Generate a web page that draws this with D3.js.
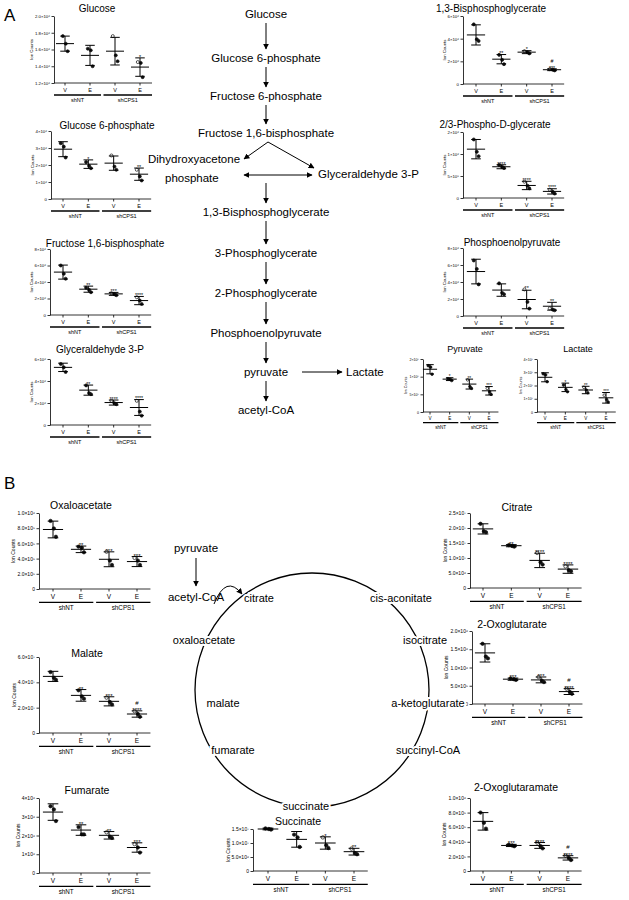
<!DOCTYPE html>
<html>
<head>
<meta charset="utf-8">
<script src="https://cdn.jsdelivr.net/npm/d3@7"></script>
<style>
  body { margin: 0; background: #fff; }
  svg { font-family: "Liberation Sans", Arial, sans-serif; }
  text { fill: #000; }
</style>
</head>
<body>
<div id="chart"></div>
<script>
"use strict"

// categories
const cats = ["V", "E", "V", "E"]
const groups = ["shNT", "shCPS1"]

// values per metabolite, in the unit of its axis (x10^6 etc.)
const glucose = { mean: [1.67, 1.53, 1.58, 1.39], sd: [0.09, 0.12, 0.165, 0.11],
  pts: [[1.76, 1.67, 1.58], [1.61, 1.59, 1.40], [1.76, 1.53, 1.46], [1.45, 1.44, 1.27]],
  sig: ["", "", "", "*"],
  ticks: [1.2, 1.4, 1.6, 1.8, 2.0], labels: ["1.2×10⁶", "1.4×10⁶", "1.6×10⁶", "1.8×10⁶", "2.0×10⁶"] }
const g6p = { mean: [2.93, 2.05, 2.11, 1.46], sd: [0.44, 0.25, 0.42, 0.36],
  pts: [[3.28, 3.08, 2.44], [2.17, 1.95, 1.81], [2.56, 1.91, 1.72], [1.72, 1.33, 1.09]],
  sig: ["", "*", "", "**"],
  ticks: [0, 1, 2, 3, 4], labels: ["0", "1×10⁶", "2×10⁶", "3×10⁶", "4×10⁶"] }
const f16bp = { mean: [5.2, 3.13, 2.56, 1.75], sd: [0.85, 0.37, 0.18, 0.5],
  pts: [[6.0, 5.0, 4.4], [3.3, 3.05, 2.76], [2.64, 2.52, 2.4], [2.15, 1.75, 1.34]],
  sig: ["", "**", "***", "****"],
  ticks: [0, 2, 4, 6, 8], labels: ["0", "2×10⁶", "4×10⁶", "6×10⁶", "8×10⁶"] }
const g3p = { mean: [5.24, 3.17, 2.04, 1.59], sd: [0.38, 0.46, 0.23, 0.72],
  pts: [[5.55, 5.24, 4.82], [3.6, 2.9, 2.8], [2.2, 1.98, 1.89], [2.2, 1.22, 0.85]],
  sig: ["", "**", "****", "****"],
  ticks: [0, 2, 4, 6], labels: ["0", "2×10⁶", "4×10⁶", "6×10⁶"] }
const bpg13 = { mean: [4.33, 2.19, 2.81, 1.26], sd: [0.89, 0.41, 0.13, 0.08],
  pts: [[5.26, 3.95, 3.8], [2.57, 2.13, 1.75], [2.9, 2.81, 2.7], [1.31, 1.26, 1.2]],
  sig: ["", "**", "*", "#\n***"],
  ticks: [0, 2, 4, 6], labels: ["0", "2×10⁶", "4×10⁶", "6×10⁶"] }
const pdg = { mean: [1.11, 0.71, 0.285, 0.15], sd: [0.22, 0.045, 0.095, 0.06],
  pts: [[1.33, 1.05, 0.95], [0.75, 0.71, 0.68], [0.37, 0.28, 0.22], [0.19, 0.14, 0.10]],
  sig: ["", "****", "****", "****"],
  ticks: [0, 0.5, 1, 1.5], labels: ["0", "5×10⁵", "1×10⁶", "2×10⁶"] }
const pep = { mean: [5.23, 3.05, 1.94, 1.15], sd: [1.45, 0.73, 1.09, 0.46],
  pts: [[6.53, 5.54, 3.72], [3.84, 2.73, 2.57], [3.13, 1.66, 0.87], [0.9, 0.75, 0.67]],
  sig: ["", "", "**", "**"],
  ticks: [0, 2, 4, 6, 8], labels: ["0", "2×10⁶", "4×10⁶", "6×10⁶", "8×10⁶"] }
const pyruvate = { mean: [1.21, 0.93, 0.79, 0.60], sd: [0.13, 0.04, 0.14, 0.12],
  pts: [[1.31, 1.27, 1.07], [0.94, 0.92, 0.89], [0.91, 0.72, 0.67], [0.67, 0.57, 0.50]],
  sig: ["", "*", "**", "***"],
  ticks: [0, 0.5, 1, 1.5], labels: ["0", "5×10⁵", "1×10⁶", "2×10⁶"] }
const lactate = { mean: [2.62, 1.86, 1.66, 1.07], sd: [0.34, 0.32, 0.28, 0.4],
  pts: [[2.88, 2.8, 2.29], [2.03, 1.7, 1.53], [1.86, 1.66, 1.45], [1.27, 0.94, 0.76]],
  sig: ["", "*", "**", "***"],
  ticks: [0, 1, 2, 3, 4], labels: ["0", "1×10⁷", "2×10⁷", "3×10⁷", "4×10⁷"] }
const oaa = { mean: [7.83, 5.22, 3.91, 3.61], sd: [1.1, 0.43, 0.98, 0.66],
  pts: [[8.96, 7.96, 6.87], [5.57, 5.43, 4.83], [4.91, 3.74, 3.17], [4.09, 3.74, 3.17]],
  sig: ["", "**", "***", "***"],
  ticks: [0, 2, 4, 6, 8, 10], labels: ["0", "2.0×10⁵", "4.0×10⁵", "6.0×10⁵", "8.0×10⁵", "1.0×10⁶"] }
const malate = { mean: [4.47, 2.97, 2.5, 1.5], sd: [0.4, 0.46, 0.36, 0.25],
  pts: [[4.81, 4.36, 4.2], [3.37, 2.89, 2.71], [2.79, 2.45, 2.26], [1.72, 1.5, 1.28]],
  sig: ["", "**", "***", "#\n****"],
  ticks: [0, 2, 4, 6], labels: ["0", "2.0×10⁷", "4.0×10⁷", "6.0×10⁷"] }
const fumarate = { mean: [3.25, 2.29, 2.01, 1.36], sd: [0.44, 0.28, 0.2, 0.25],
  pts: [[3.56, 3.39, 2.77], [2.45, 2.06, 2.06], [2.17, 1.94, 1.87], [1.54, 1.36, 1.09]],
  sig: ["", "**", "**", "***"],
  ticks: [0, 1, 2, 3, 4], labels: ["0", "1×10⁶", "2×10⁶", "3×10⁶", "4×10⁶"] }
const citrate = { mean: [1.97, 1.41, 0.92, 0.63], sd: [0.17, 0.035, 0.24, 0.14],
  pts: [[2.14, 1.89, 1.86], [1.43, 1.40, 1.38], [1.17, 0.86, 0.78], [0.72, 0.59, 0.56]],
  sig: ["", "**", "****", "****"],
  ticks: [0, 0.5, 1, 1.5, 2, 2.5], labels: ["0", "5.0×10⁶", "1.0×10⁷", "1.5×10⁷", "2.0×10⁷", "2.5×10⁷"] }
const oxoglutarate = { mean: [1.4, 0.68, 0.66, 0.34], sd: [0.25, 0.03, 0.08, 0.08],
  pts: [[1.65, 1.3, 1.25], [0.7, 0.68, 0.66], [0.74, 0.64, 0.6], [0.42, 0.33, 0.28]],
  sig: ["", "***", "***", "#\n****"],
  ticks: [0, 0.5, 1, 1.5, 2], labels: ["0", "5.0×10⁵", "1.0×10⁶", "1.5×10⁶", "2.0×10⁶"] }
const succinate = { mean: [1.5, 1.13, 1.0, 0.69], sd: [0.03, 0.28, 0.22, 0.12],
  pts: [[1.52, 1.5, 1.48], [1.3, 1.2, 0.86], [1.2, 0.92, 0.82], [0.8, 0.64, 0.6]],
  sig: ["", "", "*", "**"],
  ticks: [0, 0.5, 1, 1.5], labels: ["0", "5.0×10⁶", "1.0×10⁷", "1.5×10⁷"] }
const oxoglutaramate = { mean: [0.68, 0.35, 0.35, 0.18], sd: [0.12, 0.015, 0.04, 0.03],
  pts: [[0.8, 0.66, 0.58], [0.36, 0.35, 0.34], [0.39, 0.34, 0.31], [0.21, 0.18, 0.15]],
  sig: ["", "***", "****", "#\n****"],
  ticks: [0, 0.2, 0.4, 0.6, 0.8, 1.0], labels: ["0", "2.0×10⁵", "4.0×10⁵", "6.0×10⁵", "8.0×10⁵", "1.0×10⁶"] }

// panel placement
const small = { tf: 4.3, cf: 5.5, gf: 5.5, ttf: 10 }
const tiny = { tf: 3.6, cf: 4.6, gf: 4.6, ttf: 9 }
const mid = { tf: 5, cf: 6.5, gf: 6.3, ttf: 10.5 }
const panels = [
  { d: glucose, title: "Glucose", tx: 97, ty: 12, ax: 54, y0: 83, y1: 16, c0: 65, c3: 140, f: small },
  { d: g6p, title: "Glucose 6-phosphate", tx: 107, ty: 129, ax: 51, y0: 199, y1: 131, c0: 63, c3: 139, f: small },
  { d: f16bp, title: "Fructose 1,6-bisphosphate", tx: 105, ty: 247, ax: 50, y0: 315, y1: 249, c0: 63, c3: 139, f: small },
  { d: g3p, title: "Glyceraldehyde 3-P", tx: 100, ty: 353, ax: 50, y0: 425, y1: 359, c0: 63, c3: 139, f: small },
  { d: bpg13, title: "1,3-Bisphosphoglycerate", tx: 491, ty: 12, ax: 463, y0: 84, y1: 16, c0: 476, c3: 552, f: small },
  { d: pdg, title: "2/3-Phospho-D-glycerate", tx: 495, ty: 128, ax: 463, y0: 198, y1: 132, c0: 476, c3: 552, f: small },
  { d: pep, title: "Phosphoenolpyruvate", tx: 512, ty: 246, ax: 463, y0: 316, y1: 248, c0: 476, c3: 552, f: small },
  { d: pyruvate, title: "Pyruvate", tx: 465, ty: 352, ax: 423, y0: 412, y1: 359, c0: 430, c3: 489, f: tiny },
  { d: lactate, title: "Lactate", tx: 578, ty: 352, ax: 537, y0: 412, y1: 359, c0: 545, c3: 606, f: tiny },
  { d: oaa, title: "Oxaloacetate", tx: 81, ty: 509, ax: 39, y0: 589, y1: 513, c0: 53, c3: 137, f: mid },
  { d: malate, title: "Malate", tx: 87, ty: 657, ax: 39, y0: 733, y1: 657, c0: 53, c3: 137, f: mid },
  { d: fumarate, title: "Fumarate", tx: 87, ty: 794, ax: 39, y0: 873, y1: 798, c0: 53, c3: 137, f: mid },
  { d: citrate, title: "Citrate", tx: 517, ty: 511, ax: 470, y0: 588, y1: 513, c0: 483, c3: 568, f: mid },
  { d: oxoglutarate, title: "2-Oxoglutarate", tx: 512, ty: 628, ax: 472, y0: 704, y1: 631, c0: 485, c3: 569, f: mid },
  { d: succinate, title: "Succinate", tx: 298, ty: 825, ax: 253, y0: 871, y1: 829, c0: 268, c3: 354, f: mid },
  { d: oxoglutaramate, title: "2-Oxoglutaramate", tx: 516, ty: 791, ax: 470, y0: 871, y1: 798, c0: 483, c3: 568, f: mid }
]

const W = 629, H = 900
const svg = d3.select("#chart").append("svg")
  .attr("width", W).attr("height", H)

const jit = [-2.2, 0.8, 2.6]

function drawPanel(p) {
  const d = p.d, f = p.f
  const g = svg.append("g")
  const y = d3.scaleLinear()
    .domain([d.ticks[0], d.ticks[d.ticks.length - 1]])
    .range([p.y0, p.y1])
  const x = d3.scalePoint().domain(d3.range(4)).range([p.c0, p.c3])
  const step = x.step()

  // y axis
  const ya = g.append("g")
    .attr("transform", `translate(${p.ax},0)`)
    .call(d3.axisLeft(y).tickValues(d.ticks)
      .tickFormat((v, i) => d.labels[i]).tickSize(2.5).tickSizeOuter(0).tickPadding(1.5))
  ya.selectAll("text").style("font-size", f.tf + "px").attr("fill", "#000")
  ya.selectAll("line, path").attr("stroke", "#000").attr("stroke-width", 0.8)

  // x axis
  const xEnd = p.c3 + step * 0.48
  g.append("line").attr("x1", p.ax).attr("x2", xEnd)
    .attr("y1", p.y0).attr("y2", p.y0).attr("stroke", "#000").attr("stroke-width", 0.8)
  g.selectAll(".xt").data(cats).join("line")
    .attr("x1", (c, i) => x(i)).attr("x2", (c, i) => x(i))
    .attr("y1", p.y0).attr("y2", p.y0 + 2.5).attr("stroke", "#000").attr("stroke-width", 0.8)
  g.selectAll(".xl").data(cats).join("text")
    .attr("x", (c, i) => x(i)).attr("y", p.y0 + 3 + f.cf)
    .attr("text-anchor", "middle").style("font-size", f.cf + "px").text(c => c)

  // group bars
  const gy = p.y0 + 4 + f.cf * 1.45
  groups.forEach((gn, k) => {
    const a = k === 0 ? p.ax : x(2) - step * 0.46
    const b = k === 0 ? x(1) + step * 0.44 : xEnd
    g.append("line").attr("x1", a).attr("x2", b).attr("y1", gy).attr("y2", gy)
      .attr("stroke", "#000").attr("stroke-width", 1.3)
    g.append("text").attr("x", (a + b) / 2).attr("y", gy + 1.5 + f.gf)
      .attr("text-anchor", "middle").style("font-size", f.gf + "px").text(gn)
  })

  // y label
  const bb = ya.node().getBBox()
  const lx = p.ax + bb.x - 2
  const ly = (p.y0 + p.y1) / 2
  g.append("text").attr("transform", `translate(${lx},${ly}) rotate(-90)`)
    .attr("text-anchor", "middle").style("font-size", f.tf + "px").text("Ion Counts")

  // title
  g.append("text").attr("x", p.tx).attr("y", p.ty).attr("text-anchor", "middle")
    .style("font-size", f.ttf + "px").text(p.title)

  // points
  const r = Math.max(1.3, step * 0.06)
  d.pts.forEach((arr, i) => {
    g.selectAll(null).data(arr).join("circle")
      .attr("cx", (v, j) => x(i) + jit[j] * step / 25)
      .attr("cy", v => y(v)).attr("r", r)
      .attr("fill", (v, j) => (i >= 2 && j === 0) ? "#fff" : "#111")
      .attr("stroke", "#111").attr("stroke-width", 0.7)
  })

  // mean and sd
  const mw = step * 0.36, cw = step * 0.19
  g.selectAll(null).data(d.mean).join("line")
    .attr("x1", (m, i) => x(i) - mw).attr("x2", (m, i) => x(i) + mw)
    .attr("y1", m => y(m)).attr("y2", m => y(m)).attr("stroke", "#000").attr("stroke-width", 1)
  d.mean.forEach((m, i) => {
    const hi = y(m + d.sd[i]), lo = y(m - d.sd[i])
    g.append("line").attr("x1", x(i)).attr("x2", x(i)).attr("y1", hi).attr("y2", lo)
      .attr("stroke", "#000").attr("stroke-width", 1)
    ;[hi, lo].forEach(yy => g.append("line").attr("x1", x(i) - cw).attr("x2", x(i) + cw)
      .attr("y1", yy).attr("y2", yy).attr("stroke", "#000").attr("stroke-width", 1))
    // significance
    const top = Math.min(hi, y(d3.max(d.pts[i])))
    const lines = d.sig[i] ? d.sig[i].split("\n").reverse() : []
    lines.forEach((s, k) => {
      g.append("text").attr("x", x(i)).attr("y", top - 1.2 + (s === "#" ? 0 : f.tf * 0.45) - k * f.tf * 1.0)
        .attr("text-anchor", "middle").style("font-size", (f.tf + 1) + "px").text(s)
    })
  })
}

panels.forEach(drawPanel)

// section letters
svg.append("text").attr("x", 4).attr("y", 21).style("font-size", "17px").text("A")
svg.append("text").attr("x", 4).attr("y", 489).style("font-size", "17px").text("B")

// arrow marker
svg.append("defs").append("marker")
  .attr("id", "ah").attr("viewBox", "0 0 10 10").attr("refX", 9).attr("refY", 5)
  .attr("markerWidth", 6).attr("markerHeight", 6).attr("markerUnits", "userSpaceOnUse")
  .attr("orient", "auto-start-reverse")
  .append("path").attr("d", "M0,0L10,5L0,10z").attr("fill", "#000")

function arrow(x1, y1, x2, y2) {
  svg.append("line").attr("x1", x1).attr("y1", y1).attr("x2", x2).attr("y2", y2)
    .attr("stroke", "#000").attr("stroke-width", 1).attr("marker-end", "url(#ah)")
}
function label(t, xx, yy, anchor) {
  svg.append("text").attr("x", xx).attr("y", yy).attr("text-anchor", anchor || "middle")
    .style("font-size", "11.5px").text(t)
}

// glycolysis pathway
const px = 266
label("Glucose", px, 18)
arrow(px, 23, px, 49)
label("Glucose 6-phosphate", px, 62)
arrow(px, 67, px, 87)
label("Fructose 6-phosphate", px, 100)
arrow(px, 105, px, 124)
label("Fructose 1,6-bisphosphate", px, 137)
arrow(px + 2, 142, px - 22, 159)
arrow(px + 2, 142, px + 48, 168)
svg.append("line").attr("x1", 244).attr("x2", 312).attr("y1", 175).attr("y2", 175)
  .attr("stroke", "#000").attr("marker-end", "url(#ah)").attr("marker-start", "url(#ah)")
label("Dihydroxyacetone", 148, 163, "start")
label("phosphate", 165, 182, "start")
label("Glyceraldehyde 3-P", 318, 178, "start")
arrow(px, 183, px, 203)
label("1,3-Bisphosphoglycerate", px, 216)
arrow(px, 221, px, 244)
label("3-Phosphoglycerate", px, 257)
arrow(px, 262, px, 284)
label("2-Phosphoglycerate", px, 297)
arrow(px, 302, px, 324)
label("Phosphoenolpyruvate", px, 337)
arrow(px, 342, px, 363)
label("pyruvate", px, 376)
arrow(px + 36, 372, px + 76, 372)
label("Lactate", 346, 376, "start")
arrow(px, 381, px, 401)
label("acetyl-CoA", px, 414)

// TCA cycle
svg.append("circle").attr("cx", 312).attr("cy", 690).attr("r", 117)
  .attr("fill", "none").attr("stroke", "#000").attr("stroke-width", 1.3)
label("pyruvate", 196, 552)
arrow(196, 558, 196, 586)
label("acetyl-CoA", 196, 601)
svg.append("path").attr("d", "M214,604 Q226,574 242,594")
  .attr("fill", "none").attr("stroke", "#000").attr("marker-end", "url(#ah)")
const tca = [["citrate", 259, 602], ["cis-aconitate", 401, 602], ["isocitrate", 425, 644],
  ["a-ketoglutarate", 428, 707], ["succinyl-CoA", 428, 754], ["succinate", 306, 810],
  ["fumarate", 233, 754], ["malate", 223, 707], ["oxaloacetate", 204, 644]]
tca.forEach(t => svg.append("text").attr("x", t[1]).attr("y", t[2]).attr("text-anchor", "middle")
  .style("font-size", "11px").attr("stroke", "#fff").attr("stroke-width", 4)
  .attr("paint-order", "stroke").text(t[0]))
</script>
</body>
</html>
